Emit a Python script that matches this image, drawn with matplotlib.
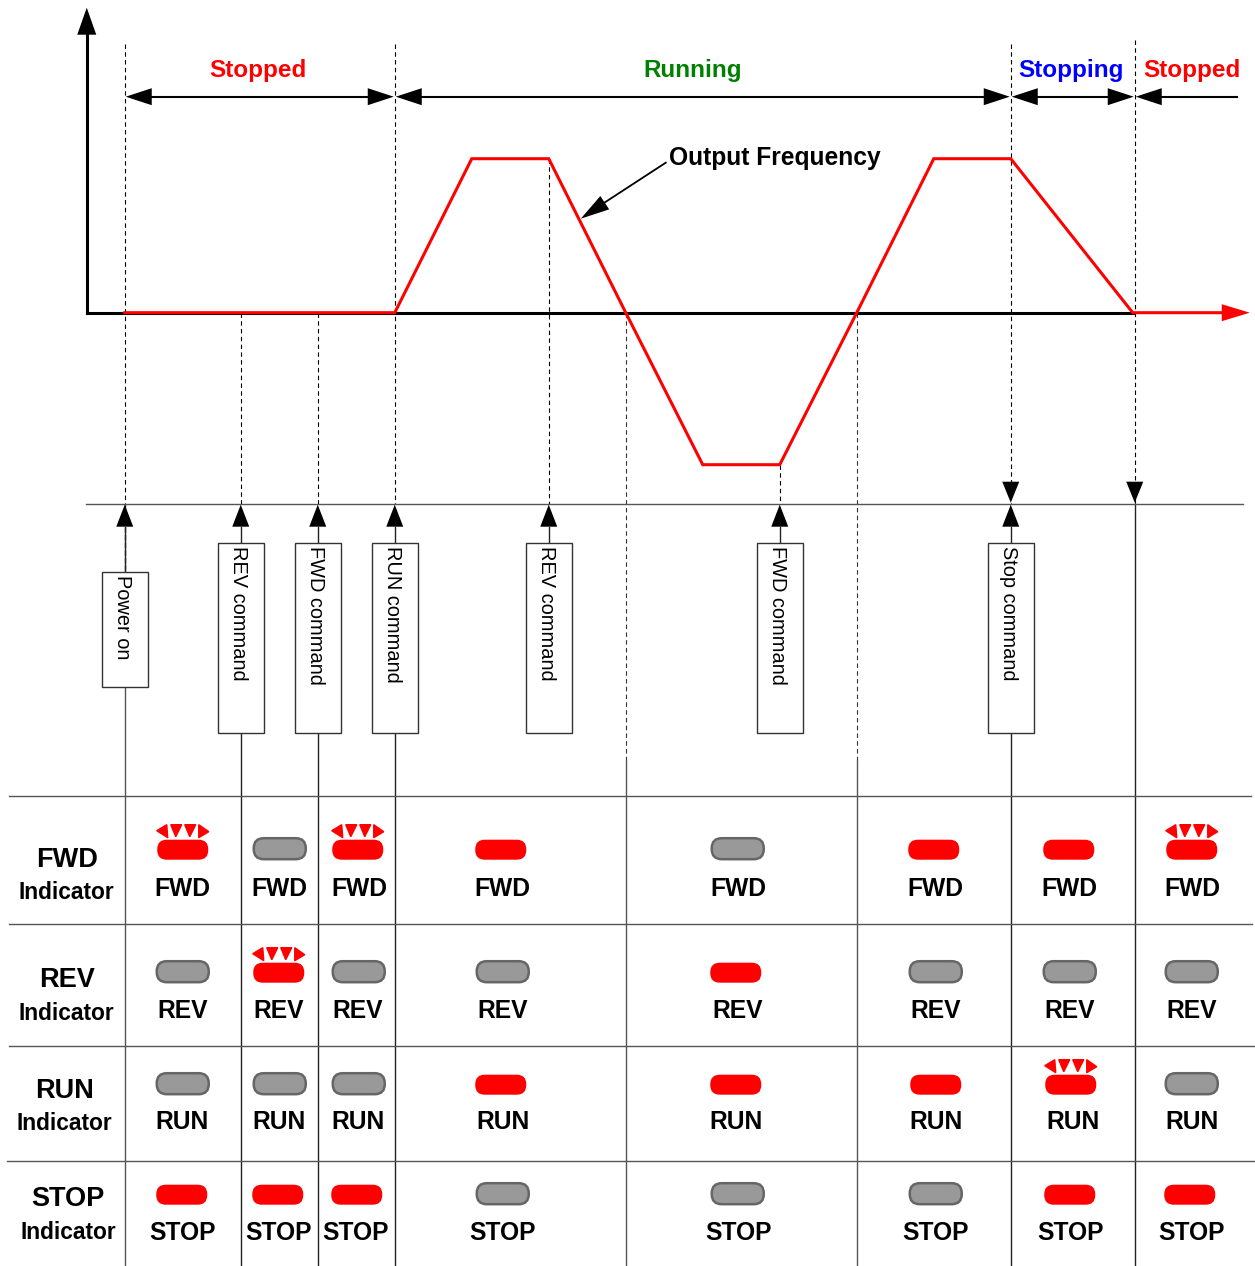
import matplotlib
matplotlib.use("Agg")
import matplotlib.pyplot as plt
from matplotlib.patches import FancyBboxPatch, Polygon, Rectangle

plt.rcParams['font.family'] = ['Liberation Sans', 'DejaVu Sans']

# ---- data (schematic timeline) ----
freq_t = [125, 395, 472, 549, 626, 703, 780, 857, 934, 1011, 1133, 1222]
freq_v = [313, 313, 159, 159, 313, 465, 465, 313, 159, 159, 313, 313]

phase_edges = [125, 395, 1011, 1135, 1237]
phase_names = ["Stopped", "Running", "Stopping", "Stopped"]
phase_colors = ["#ff0000", "#008000", "#0000ff", "#ff0000"]
phase_label_x = [258, 693, 1071, 1192]

command_x = [125, 241, 318, 395, 549, 780, 1011]
command_names = ["Power on", "REV command", "FWD command", "RUN command",
                 "REV command", "FWD command", "Stop command"]
command_box_top = [572, 543, 543, 543, 543, 543, 543]
command_box_bottom = [687, 733, 733, 733, 733, 733, 733]
command_dash_top = [44, 313, 313, 44, 159, 465, 44]
command_drop = [True, True, True, True, False, False, True]

column_x = [125, 241, 318, 395, 626, 857, 1011, 1135]

row_lines_y = [796, 924, 1046, 1161]
row_lines_x0 = [9, 9, 9, 7]
row_lines_x1 = [1251, 1252, 1254, 1254]

row_titles = ["FWD", "REV", "RUN", "STOP"]
title_x = [67, 67, 65, 68]
title_y = [859, 979, 1090, 1198]
indicator_x = [67, 67, 65, 69]
indicator_y = [891, 1012, 1122, 1231]

lamp_y = [849, 972, 1084, 1194]
label_y = [888, 1010, 1121, 1232]
lamp_x = [[183, 280, 358, 501, 738, 934, 1069, 1192],
          [183, 279, 359, 503, 736, 936, 1070, 1192],
          [183, 280, 359, 501, 736, 936, 1071, 1192],
          [182, 278, 357, 503, 738, 936, 1070, 1190]]
label_x = [[183, 280, 360, 503, 739, 936, 1070, 1193],
           [183, 279, 358, 503, 738, 936, 1070, 1192],
           [182, 279, 358, 503, 736, 936, 1073, 1192],
           [183, 279, 356, 503, 739, 936, 1071, 1192]]
# 0 = off, 1 = on, 2 = blinking
lamp_state = [[2, 0, 2, 1, 0, 1, 1, 2],
              [0, 2, 0, 0, 1, 0, 0, 0],
              [0, 0, 0, 1, 1, 1, 2, 0],
              [1, 1, 1, 0, 0, 0, 1, 1]]

RED = "#ff0000"
GREY = "#555555"
TEXT_DY = 1.5

fig = plt.figure(figsize=(12.55, 12.66), dpi=100)
ax = fig.add_axes([0, 0, 1, 1])
ax.set_xlim(0.25, 1255.25)
ax.set_ylim(1266.3, 0.3)
ax.axis("off")


def head(x, y, dx, dy, half=8.5, color="black", z=6):
    """Triangular arrowhead with tip at (x, y); (dx, dy) runs from base to tip."""
    n = (dx ** 2 + dy ** 2) ** 0.5
    ux, uy = dx / n, dy / n
    ax.add_patch(Polygon([(x, y),
                          (x - dx - uy * half, y - dy + ux * half),
                          (x - dx + uy * half, y - dy - ux * half)],
                         closed=True, fc=color, ec="none", zorder=z))


# dashed guides
for x, top in zip(command_x, command_dash_top):
    ax.plot([x, x], [top, 504], color="black", lw=0.8, dashes=(4, 3), zorder=2)
ax.plot([125, 125], [504, 572], color="#333333", lw=1.0, dashes=(4, 1.5), zorder=2)
ax.plot([1135, 1135], [40, 504], color="black", lw=0.8, dashes=(4, 3), zorder=2)
for x in column_x[4:6]:
    ax.plot([x, x], [313, 760], color="#333333", lw=0.8, dashes=(4, 3), zorder=2)
    ax.plot([x, x], [760, 1266], color=GREY, lw=1.0, zorder=2)

# solid lines at the command boxes
for x, top, bottom, drop in zip(command_x, command_box_top, command_box_bottom, command_drop):
    ax.plot([x, x], [527, top], color="#222222", lw=1.0, zorder=2)
    if drop:
        ax.plot([x, x], [bottom, 1266], color="#222222" if x != 125 else GREY, lw=1.0, zorder=2)
ax.plot([1135, 1135], [504, 1266], color="#222222", lw=1.0, zorder=2)

# axes of the frequency plot
ax.plot([87, 87], [313, 30], color="black", lw=2.2, zorder=4, solid_capstyle="projecting")
head(87, 8, 0, -27, half=9.5)
ax.plot([87, 1133], [313, 313], color="black", lw=2.2, zorder=3)
ax.plot(freq_t, freq_v, color=RED, lw=2.2, zorder=5, solid_joinstyle="miter")
head(1250, 313, 28, 0, half=8.5, color=RED)

ax.plot([86, 1243], [504, 504], color=GREY, lw=1.0, zorder=2)

# phase arrows
for i, name in enumerate(phase_names):
    a, b = phase_edges[i], phase_edges[i + 1]
    ax.plot([a + 10, b - 10 if i < 3 else b], [97, 97], color="black", lw=1.5, zorder=3)
    head(a + 1, 97, -26, 0)
    if i < 3:
        head(b - 1, 97, 26, 0)
    ax.text(phase_label_x[i], 69 + TEXT_DY, name, color=phase_colors[i], fontsize=17.5,
            fontweight="bold", ha="center", va="center")

# output frequency annotation
ax.plot([666, 600], [163, 206], color="black", lw=1.3, zorder=4)
head(581, 219, -24, 16, half=8)
ax.text(669.5, 157 + TEXT_DY, "Output Frequency", fontsize=17.7, fontweight="bold",
        ha="left", va="center")

# command boxes and arrows
for x, name, top, bottom in zip(command_x, command_names, command_box_top, command_box_bottom):
    head(x, 505, 0, -22)
    ax.add_patch(Rectangle((x - 23, top), 46, bottom - top, fc="white", ec="#333333",
                           lw=1.0, zorder=4))
    ax.text(x - 2, top + 3, name, rotation=-90, fontsize=14.4, ha="center", va="top", zorder=5)
head(1011, 503, 0, 21)
head(1135, 503, 0, 21)

# table
for y, x0, x1 in zip(row_lines_y, row_lines_x0, row_lines_x1):
    ax.plot([x0, x1], [y, y], color=GREY, lw=1.0, zorder=2)

for t, tx, ty, ix, iy in zip(row_titles, title_x, title_y, indicator_x, indicator_y):
    ax.text(tx, ty + TEXT_DY, t, fontsize=19.5, fontweight="bold", ha="center", va="center")
    ax.text(ix, iy + TEXT_DY, "Indicator", fontsize=16.4, fontweight="bold", ha="center", va="center")


def lamp(cx, cy, state):
    if state == 0:
        ax.add_patch(FancyBboxPatch((cx - 26, cy - 10.5), 52, 21,
                                    boxstyle="round,pad=0,rounding_size=10",
                                    fc="#999999", ec="#666666", lw=1.8, zorder=4))
        return
    cy += 1
    ax.add_patch(FancyBboxPatch((cx - 25.5, cy - 10), 51, 20,
                                boxstyle="round,pad=0,rounding_size=9.5",
                                fc=RED, ec="none", zorder=4))
    if state == 2:
        rays = [[(-26, -19), (-16, -25), (-15, -12)],
                [(-12, -25), (-1, -25), (-7, -13)],
                [(2, -25), (13, -25), (7, -13)],
                [(16, -25), (26, -18), (16, -12)]]
        for tri in rays:
            ax.add_patch(Polygon([(cx + p, cy + q) for p, q in tri], closed=True,
                                 fc=RED, ec=RED, lw=1.0, zorder=4))


for r, t in enumerate(row_titles):
    for c in range(len(column_x)):
        lamp(lamp_x[r][c], lamp_y[r], lamp_state[r][c])
        ax.text(label_x[r][c], label_y[r] + TEXT_DY, t, fontsize=17.7, fontweight="bold",
                ha="center", va="center", zorder=5)

fig.savefig("out.png", dpi=100)
